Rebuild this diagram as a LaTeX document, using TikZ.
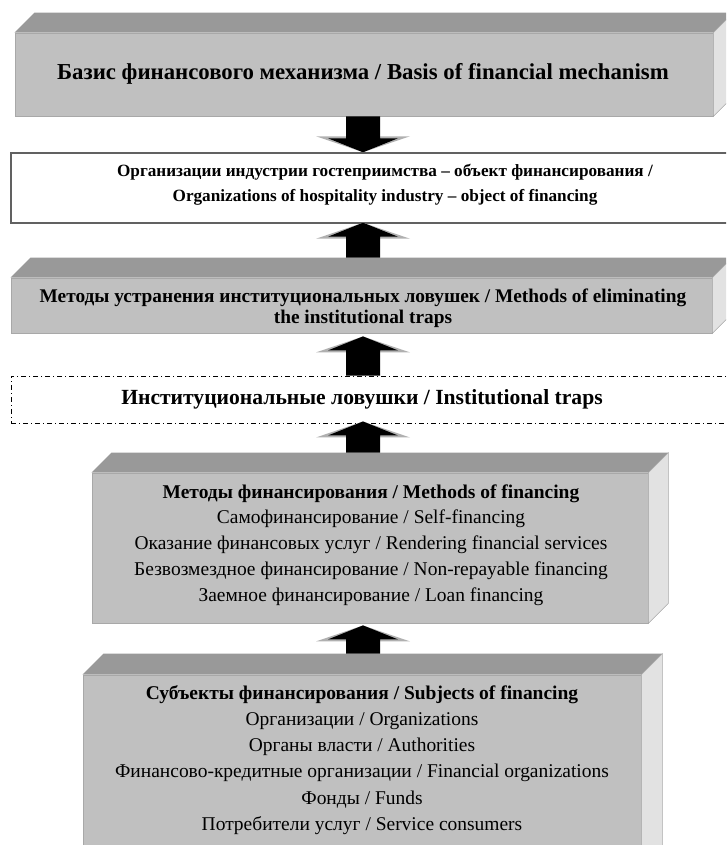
\documentclass[tikz,border=0pt]{standalone}
\usepackage{fontspec}
\setmainfont{Liberation Serif}
\usetikzlibrary{calc}
\definecolor{frontc}{HTML}{C0C0C0}
\definecolor{topc}{HTML}{999999}
\definecolor{sidec}{HTML}{E2E2E2}
\definecolor{edgec}{HTML}{A8A8A8}
\definecolor{arrsh}{HTML}{B0B0B0}
\tikzset{
  frontface/.style={fill=frontc, draw=edgec, line width=0.6pt, inner sep=0pt},
  topface/.style={fill=topc},
  sideface/.style={fill=sidec, draw=edgec, line width=0.4pt},
  plainbox/.style={fill=white, draw=black!62, line width=1.1pt, inner sep=0pt},
  dashbox/.style={draw=black, line width=0.7pt, dash pattern=on 4pt off 2pt on 1pt off 2pt, inner sep=0pt},
  txt/.style={align=center, inner sep=0pt},
  arrshadow/.style={fill=arrsh},
  arrbody/.style={fill=black}
}
% 3D faces of a front-face node #1, depth #2 (px)
\newcommand\boxfaces[2]{%
  \fill[topface] (#1.north west) -- ++(#2,-#2) -- ($(#1.north east)+(#2,-#2)$) -- (#1.north east) -- cycle;
  \filldraw[sideface] (#1.north east) -- ++(#2,-#2) -- ($(#1.south east)+(#2,-#2)$) -- (#1.south east) -- cycle;
}
% block arrow from coordinate #1 (base) to coordinate #2 (tip); #3 = +1 for up, -1 for down
\newcommand\blockarrow[3]{%
  \fill[arrshadow] (#2) -- ($(#2)+(-47,#3*16)$) -- ($(#2)+(47,#3*16)$) -- cycle;
  \fill[arrbody] (#2) -- ($(#2)+(-35,#3*14)$) -- ($(#2)+(-17,#3*14)$) -- (#1 -| {$(#2)+(-17,0)$}) -- (#1 -| {$(#2)+(17,0)$}) -- ($(#2)+(17,#3*14)$) -- ($(#2)+(35,#3*14)$) -- cycle;
}
\begin{document}
\begin{tikzpicture}[x=0.75pt,y=-0.75pt]
\useasboundingbox (0,0) rectangle (726,845);
\clip (0,0) rectangle (726,845);
\coordinate (ax) at (363,0);

% Box 1
\node[frontface, minimum width=698*0.75pt, minimum height=83*0.75pt] (b1) at (364,74.5) {};
\boxfaces{b1}{20}
\node[txt, font=\fontsize{17.1}{20}\selectfont\bfseries] (t1) at (363,74) {Базис финансового механизма / Basis of financial mechanism};

% Box 2
\node[plainbox, minimum width=740*0.75pt, minimum height=70*0.75pt] (b2) at (381,188) {};
\node[txt, font=\fontsize{12.9}{18.5}\selectfont\bfseries] (t2) at (385,185) {Организации индустрии гостеприимства – объект финансирования /\\Organizations of hospitality industry – object of financing};

% Box 3
\node[frontface, minimum width=701*0.75pt, minimum height=55*0.75pt] (b3) at (361.5,305.5) {};
\boxfaces{b3}{20}
\node[txt, font=\fontsize{14.5}{15.8}\selectfont\bfseries] (t3) at (363,308) {Методы устранения институциональных ловушек / Methods of eliminating\\the institutional traps};

% Dashed box
\node[dashbox, minimum width=740*0.75pt, minimum height=47*0.75pt] (b4) at (381,399.5) {};
\node[txt, font=\fontsize{16.2}{18}\selectfont\bfseries] (t4) at (362,399) {Институциональные ловушки / Institutional traps};

% Box 5 (methods)
\node[frontface, minimum width=556*0.75pt, minimum height=150*0.75pt] (b5) at (370,548) {};
\boxfaces{b5}{20}
\node[txt, font=\fontsize{14.6}{19.4}\selectfont] (t5) at (371,545) {\textbf{Методы финансирования / Methods of financing}\\Самофинансирование / Self-financing\\Оказание финансовых услуг / Rendering financial services\\Безвозмездное финансирование / Non-repayable financing\\Заемное финансирование / Loan financing};

% Box 6 (subjects)
\node[frontface, minimum width=558*0.75pt, minimum height=200*0.75pt] (b6) at (362,775) {};
\boxfaces{b6}{21}
\node[txt, font=\fontsize{14.6}{19.6}\selectfont] (t6) at (362,760) {\textbf{Субъекты финансирования / Subjects of financing}\\Организации / Organizations\\Органы власти / Authorities\\Финансово-кредитные организации / Financial organizations\\Фонды / Funds\\Потребители услуг / Service consumers};

% Arrows
\coordinate (a1b) at (b1.south -| ax);
\coordinate (a1t) at (b2.north -| ax);
\blockarrow{a1b}{a1t}{-1}
\coordinate (a2b) at ($(b3.north -| ax)+(0,-20)$);
\coordinate (a2t) at ($(b2.south -| ax)+(0,-1)$);
\blockarrow{a2b}{a2t}{1}
\coordinate (a3b) at (b4.north -| ax);
\coordinate (a3t) at ($(b3.south -| ax)+(0,3)$);
\blockarrow{a3b}{a3t}{1}
\coordinate (a4b) at ($(b5.north -| ax)+(0,-20)$);
\coordinate (a4t) at ($(b4.south -| ax)+(0,-2)$);
\blockarrow{a4b}{a4t}{1}
\coordinate (a5b) at ($(b6.north -| ax)+(0,-21)$);
\coordinate (a5t) at ($(b5.south -| ax)+(0,2)$);
\blockarrow{a5b}{a5t}{1}
\end{tikzpicture}
\end{document}
